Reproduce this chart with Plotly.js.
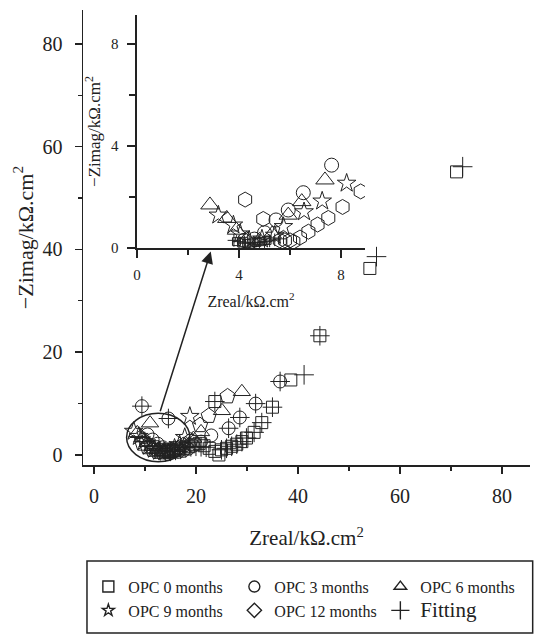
<!DOCTYPE html>
<html>
<head>
<meta charset="utf-8">
<script src="https://cdn.plot.ly/plotly-3.0.1.min.js"></script>
<style>html,body{margin:0;padding:0;background:#fff;}#chart{width:535px;height:634px;}</style>
</head>
<body>
<div id="chart"></div>
<script>
// ---------- main plot data (Zreal, -Zimag in kΩ.cm²) ----------
var opc0X = [71.1, 54.1, 44.3, 38.6, 35.0, 32.9, 31.4, 29.9, 29.0, 28.0, 27.0, 26.0, 25.0, 24.5, 23.7, 22.6, 21.6, 20.6, 19.6, 18.6, 17.6, 16.6, 15.6, 14.6, 13.6, 12.6, 11.6, 23.7];
var opc0Y = [55.1, 36.3, 23.2, 14.6, 9.3, 6.3, 4.4, 3.3, 2.6, 2.1, 1.7, 1.3, 1.0, 0.0, 0.7, 1.3, 1.8, 2.2, 2.0, 1.6, 1.3, 1.0, 0.8, 0.7, 0.8, 1.1, 1.6, 10.4];
var opc3X = [9.4, 14.6, 10.5, 11.5, 12.5, 13.5, 14.5, 15.5, 16.5, 17.5, 18.5, 19.5, 21.0, 23.0, 26.4, 28.6, 31.7, 36.5];
var opc3Y = [9.5, 7.1, 4.0, 3.0, 2.2, 1.5, 1.0, 0.7, 0.6, 0.8, 1.2, 1.8, 2.6, 3.8, 5.2, 7.3, 10.0, 14.3];
var opc6X = [8.5, 9.5, 10.5, 11.0, 11.5, 12.5, 13.5, 14.5, 15.5, 16.5, 18.0, 19.5, 21.0, 25.1, 29.0];
var opc6Y = [4.3, 3.3, 2.4, 6.2, 1.6, 1.0, 0.7, 0.6, 0.9, 1.4, 2.2, 3.2, 4.5, 8.6, 12.3];
var opc9X = [7.8, 8.8, 9.8, 10.8, 11.8, 12.8, 13.8, 14.8, 15.8, 16.8, 17.8, 18.8];
var opc9Y = [4.6, 3.6, 2.6, 1.7, 1.1, 0.7, 0.6, 0.8, 1.3, 2.0, 3.4, 7.5];
var opc12X = [9.5, 10.5, 11.5, 12.5, 13.5, 14.5, 15.5, 16.5, 17.5, 19.0, 20.8, 22.5, 26.2];
var opc12Y = [2.2, 1.5, 1.0, 0.6, 0.5, 0.6, 0.9, 1.3, 1.9, 2.8, 5.8, 7.6, 11.4];
var fitX = [72.3, 55.4, 44.3, 41.2, 36.5, 35.0, 32.9, 31.7, 31.4, 29.9, 29.0, 28.6, 28.0, 27.0, 26.4, 26.0, 25.0, 23.7, 14.6, 9.4, 22.0, 21.0, 20.0, 19.0, 18.0, 17.0, 16.0, 15.0, 14.0, 13.0, 12.0, 11.0, 10.0, 9.0];
var fitY = [56.1, 38.6, 23.2, 15.6, 14.3, 9.3, 6.3, 10.0, 4.4, 3.3, 2.6, 7.3, 2.1, 1.7, 5.2, 1.3, 1.0, 10.4, 7.1, 9.5, 1.5, 1.6, 1.7, 1.6, 1.4, 1.1, 0.9, 0.7, 0.6, 0.8, 1.2, 1.8, 2.6, 3.4];

// ---------- inset data ----------
var inOpc0X = [3.9, 4.1, 4.3, 4.5, 4.7, 4.9, 5.1];
var inOpc0Y = [0.25, 0.2, 0.18, 0.2, 0.22, 0.25, 0.3];
var inOpc3X = [4.2, 4.6, 5.0, 5.45, 5.93, 6.52, 7.63];
var inOpc3Y = [0.3, 0.35, 0.6, 1.1, 1.49, 2.17, 3.25];
var inOpc6X = [2.86, 3.52, 3.9, 4.3, 4.8, 5.3, 5.93, 6.46, 7.37];
var inOpc6Y = [1.69, 1.16, 0.7, 0.35, 0.3, 0.55, 1.29, 1.82, 2.67];
var inOpc9X = [3.19, 3.78, 4.05, 4.4, 4.9, 5.4, 5.74, 6.55, 7.26, 8.22];
var inOpc9Y = [1.29, 0.9, 0.55, 0.3, 0.35, 0.5, 0.84, 1.42, 1.84, 2.54];
var inOpc12X = [4.24, 4.95, 5.6, 5.8, 6.0, 6.13, 6.39, 6.72, 7.08, 7.5, 8.06, 8.77];
var inOpc12Y = [1.9, 1.14, 0.3, 0.3, 0.3, 0.25, 0.41, 0.64, 0.92, 1.18, 1.61, 2.22];
var inFitX = [3.8, 4.0, 4.2, 4.4, 4.6, 4.8, 5.0, 5.2, 5.4, 5.6];
var inFitY = [0.3, 0.25, 0.2, 0.2, 0.2, 0.22, 0.25, 0.28, 0.32, 0.36];

// ---------- legend ----------
var legendNames = ['OPC 0 months', 'OPC 3 months', 'OPC 6 months', 'OPC 9 months', 'OPC 12 months', '<span style="font-size:21px">Fitting</span>'];
var legendSymbols = ['square-open', 'circle-open', 'triangle-up-open', 'star-open', 'diamond-open', 'cross-thin-open'];
var legendSizes = [11, 11, 11, 9, 11, 13];

var INK = '#222';
var FONT = '"Liberation Serif", "DejaVu Serif", serif';

function pts(x, y, symbol, size, xa, ya) {
  return {
    type: 'scatter', mode: 'markers', x: x, y: y, xaxis: xa, yaxis: ya,
    showlegend: false, hoverinfo: 'skip', cliponaxis: true,
    marker: {symbol: symbol, size: size, color: INK, line: {color: INK, width: 1}}
  };
}

var traces = [
  pts(opc0X, opc0Y, 'square-open', 12, 'x', 'y'),
  pts(opc3X, opc3Y, 'circle-open', 13, 'x', 'y'),
  pts(opc6X, opc6Y, 'triangle-up-open', 15, 'x', 'y'),
  pts(opc9X, opc9Y, 'star-open', 14, 'x', 'y'),
  pts(opc12X, opc12Y, 'pentagon-open', 16, 'x', 'y'),
  pts(fitX, fitY, 'cross-thin-open', 14, 'x', 'y'),
  pts(inOpc0X, inOpc0Y, 'square-open', 8, 'x2', 'y2'),
  pts(inOpc3X, inOpc3Y, 'circle-open', 14, 'x2', 'y2'),
  pts(inOpc6X, inOpc6Y, 'triangle-up-open', 16, 'x2', 'y2'),
  pts(inOpc9X, inOpc9Y, 'star-open', 14, 'x2', 'y2'),
  pts(inOpc12X, inOpc12Y, 'hexagon-open', 15, 'x2', 'y2'),
  pts(inFitX, inFitY, 'cross-thin-open', 9, 'x2', 'y2')
];
for (var i = 0; i < legendNames.length; i++) {
  traces.push({
    type: 'scatter', mode: 'markers', x: [null], y: [null], name: legendNames[i],
    showlegend: true, hoverinfo: 'skip',
    marker: {symbol: legendSymbols[i], size: legendSizes[i], color: INK, line: {color: INK, width: 1.4}}
  });
}

function axisBase(extra) {
  var a = {
    showline: true, linecolor: INK, linewidth: 1.5, mirror: false,
    showgrid: false, zeroline: false,
    ticks: 'outside', tickcolor: INK, tickwidth: 1.5,
    tickfont: {family: FONT, color: INK}
  };
  for (var k in extra) a[k] = extra[k];
  return a;
}

var layout = {
  width: 535, height: 634,
  margin: {l: 83, r: 5, t: 10, b: 169},
  paper_bgcolor: '#fff', plot_bgcolor: 'rgba(0,0,0,0)',
  font: {family: FONT, color: INK},
  showlegend: true,
  xaxis: axisBase({
    range: [-2.15, 85.5], dtick: 20, tick0: 0, ticklen: 7,
    tickfont: {family: FONT, size: 20, color: INK}, ticklabelstandoff: 5,
    minor: {dtick: 10, tick0: 0, ticks: 'outside', ticklen: 4, tickwidth: 1.2, tickcolor: INK},
    title: {text: 'Zreal/kΩ.cm<sup>2</sup>', font: {family: FONT, size: 21, color: INK}, standoff: 25}
  }),
  yaxis: axisBase({
    range: [-1.95, 86.6], dtick: 20, tick0: 0, ticklen: 7,
    tickfont: {family: FONT, size: 20, color: INK}, ticklabelstandoff: 8,
    minor: {dtick: 10, tick0: 0, ticks: 'outside', ticklen: 4, tickwidth: 1.2, tickcolor: INK},
    title: {text: '−Zimag/kΩ.cm<sup>2</sup>', font: {family: FONT, size: 22, color: INK}, standoff: 3}
  }),
  xaxis2: axisBase({
    domain: [0.1208, 0.6309], anchor: 'y2', range: [0, 8.94],
    dtick: 4, tick0: 0, ticklen: 8,
    tickfont: {family: FONT, size: 15, color: INK}, ticklabelstandoff: 4,
    minor: {dtick: 2, tick0: 0, ticks: 'outside', ticklen: 5, tickwidth: 1.2, tickcolor: INK},
    title: {text: 'Zreal/kΩ.cm<sup>2</sup>', font: {family: FONT, size: 16, color: INK}, standoff: 14}
  }),
  yaxis2: axisBase({
    domain: [0.4769, 0.989], anchor: 'x2', range: [0, 9.14],
    dtick: 4, tick0: 0, ticklen: 8,
    tickfont: {family: FONT, size: 15, color: INK}, ticklabelstandoff: 6,
    minor: {dtick: 2, tick0: 0, ticks: 'outside', ticklen: 6, tickwidth: 1.2, tickcolor: INK},
    title: {text: '−Zimag/kΩ.cm<sup>2</sup>', font: {family: FONT, size: 17, color: INK}, standoff: 6}
  }),
  legend: {
    orientation: 'h', x: 0.012, xanchor: 'left', y: -0.23, yanchor: 'top',
    entrywidth: 101, entrywidthmode: 'pixels',
    font: {family: FONT, size: 16, color: INK},
    bgcolor: 'rgba(0,0,0,0)', borderwidth: 0
  },
  shapes: [
    {type: 'circle', xref: 'x', yref: 'y', x0: 6.4, x1: 18.8, y0: -1.3, y1: 8.1,
     line: {color: INK, width: 1.5}},
    {type: 'rect', xref: 'paper', yref: 'paper', x0: 0.0089, x1: 1.006, y0: -0.369, y1: -0.211,
     line: {color: INK, width: 1.5}, fillcolor: 'rgba(0,0,0,0)'}
  ],
  annotations: [
    {xref: 'x', yref: 'y', x: 22.9, y: 39.6, axref: 'x', ayref: 'y', ax: 12.9, ay: 8.2,
     text: '', showarrow: true, arrowhead: 2, arrowsize: 1.6, arrowwidth: 1.5, arrowcolor: INK}
  ]
};

Plotly.newPlot('chart', traces, layout, {displayModeBar: false, staticPlot: true});
</script>
</body>
</html>
